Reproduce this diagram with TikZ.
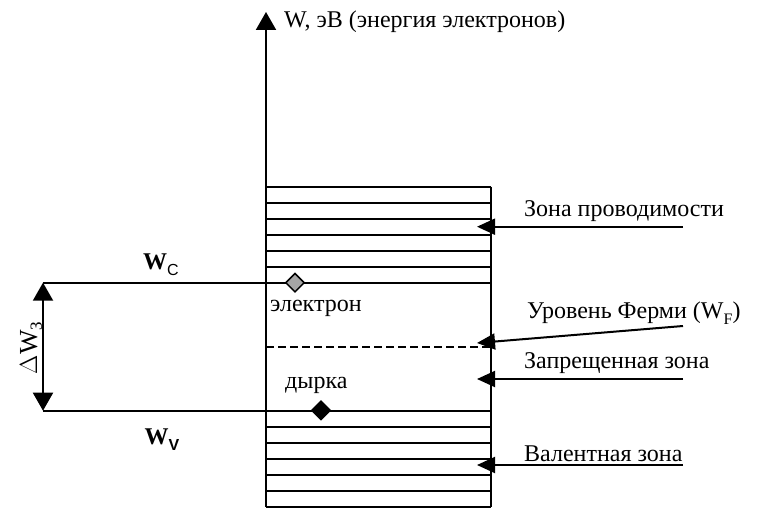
\documentclass[tikz,border=0pt]{standalone}
\usepackage{fontspec}
\setmainfont{Liberation Serif}
\setsansfont{Liberation Sans}
\usetikzlibrary{arrows.meta,shapes.geometric}
\begin{document}
\begin{tikzpicture}[x=1pt,y=-1pt,
  ln/.style={line width=2pt},
  tip/.style={-{Triangle[length=18pt,width=16pt]}},
  lbl/.style={font=\fontsize{24}{26}\selectfont,inner sep=0pt,anchor=west},
  dia/.style={diamond,draw,line width=1.5pt,inner sep=0pt,minimum size=19pt}]
\useasboundingbox (0,0) rectangle (760,532);
% axis
\coordinate (axbot) at (266,507);
\coordinate (axtop) at (266,12);
\draw[ln,-{Triangle[length=18pt,width=20pt]}] (axbot) -- (axtop);
\node[lbl] (axlbl) at (284,22) {W, эВ (энергия электронов)};
% box right edge
\coordinate (boxtr) at (491,186.7);
\coordinate (boxbr) at (491,506.7);
\draw[ln] (boxtr) -- (boxbr);
% conduction band lines
\foreach \y in {186.7,202.7,218.7,234.7,250.7,266.7}
  \draw[ln] (266,\y) -- (491,\y);
% valence band lines
\foreach \y in {426.7,442.7,458.7,474.7,490.7,506.7}
  \draw[ln] (266,\y) -- (491,\y);
% W_C and W_V lines
\coordinate (wcL) at (43,282.7);
\coordinate (wcR) at (491,282.7);
\coordinate (wvL) at (43,410.7);
\coordinate (wvR) at (491,410.7);
\draw[ln] (wcL) -- (wcR);
\draw[ln] (wvL) -- (wvR);
% Fermi dashed
\coordinate (fL) at (266,347.3);
\coordinate (fR) at (491,347.3);
\draw[line width=1.8pt,dash pattern=on 8pt off 4pt] (fL) -- (fR);
% gap double arrow
\draw[ln,{Triangle[length=18pt,width=20pt]}-{Triangle[length=18pt,width=20pt]}] (wcL) -- (wvL);
\node[font=\fontsize{26}{28}\selectfont,rotate=90,inner sep=0pt] (dw) at (31,348) {$\Delta$W\raisebox{-0.4ex}{\fontsize{17}{19}\selectfont З}};
% labels W_C, W_V
\node[font=\fontsize{24}{26}\selectfont\bfseries,inner sep=0pt] (wc) at (161,265) {W\raisebox{-0.55ex}{\sffamily\mdseries\fontsize{16}{18}\selectfont C}};
\node[font=\fontsize{24}{26}\selectfont\bfseries,inner sep=0pt] (wv) at (162,440) {W\raisebox{-0.55ex}{\sffamily\fontsize{16}{18}\selectfont V}};
% particles
\node[dia,fill=gray!70] (el) at (295,282.7) {};
\node[dia,fill=black] (hole) at (321,410.3) {};
\node[lbl] (ellbl) at (270,308) {электрон};
\node[lbl] (holelbl) at (285,385) {дырка};
% right labels and arrows
\coordinate (a1s) at (683,226.7);
\coordinate (a1e) at (477,226.7);
\coordinate (a2s) at (683,326);
\coordinate (a2e) at (477,343);
\coordinate (a3s) at (683,379);
\coordinate (a3e) at (477,379);
\coordinate (a4s) at (683,465);
\coordinate (a4e) at (477,465);
\draw[ln,tip] (a1s) -- (a1e);
\draw[ln,tip] (a2s) -- (a2e);
\draw[ln,tip] (a3s) -- (a3e);
\draw[ln,tip] (a4s) -- (a4e);
\node[lbl] (t1) at (524,211) {Зона проводимости};
\node[lbl] (t2) at (527,313) {Уровень Ферми (W\raisebox{-0.55ex}{\fontsize{16}{18}\selectfont F})};
\node[lbl] (t3) at (524,363) {Запрещенная зона};
\node[lbl] (t4) at (524,454) {Валентная зона};
\end{tikzpicture}
\end{document}
